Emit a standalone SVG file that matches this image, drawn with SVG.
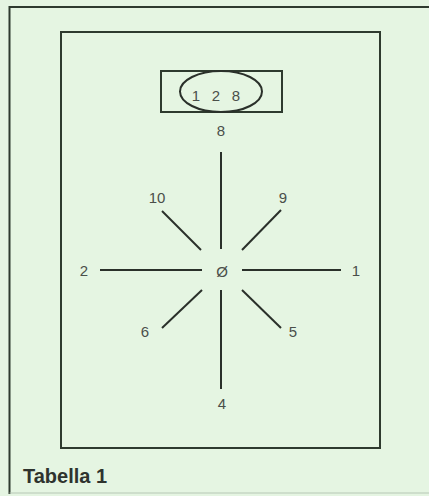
<svg xmlns="http://www.w3.org/2000/svg" width="429" height="496" viewBox="0 0 429 496">
<style>
.bg{fill:#e5f5e2}
.frame{fill:none;stroke:#2e3a2e;stroke-width:2}
.ln{stroke:#2a302a;stroke-width:2;stroke-linecap:butt}
.lbl{font-family:"Liberation Sans",Arial,sans-serif;font-size:15px;fill:#4a4f4a;text-anchor:middle}
.ttl{font-family:"Liberation Sans",Arial,sans-serif;font-size:20px;font-weight:bold;fill:#2e332e}
</style>
<rect class="bg" x="0" y="0" width="429" height="496"/>
<g id="outer-frame">
<path d="M9.5,494 V7 H429" fill="none" stroke="#2e3a2e" stroke-width="2"/>
<path d="M9.5,493 H429" fill="none" stroke="#b8c8b6" stroke-width="1.2"/>
</g>
<g id="inner-frame"><rect class="frame" x="61" y="32" width="319" height="416"/></g>
<g id="node-128">
<rect class="frame" x="161" y="71" width="121" height="41"/>
<ellipse cx="221" cy="91.5" rx="41" ry="20.5" fill="none" stroke="#2a302a" stroke-width="2"/>
<text class="lbl" x="196" y="101">1</text>
<text class="lbl" x="216" y="101">2</text>
<text class="lbl" x="236" y="101">8</text>
</g>
<g id="connectors">
<line class="ln" x1="221" y1="152" x2="221" y2="249"/>
<line class="ln" x1="221" y1="290" x2="221" y2="389"/>
<line class="ln" x1="100" y1="270" x2="202" y2="270"/>
<line class="ln" x1="242" y1="270" x2="341" y2="270"/>
<line class="ln" x1="162" y1="211" x2="201" y2="250"/>
<line class="ln" x1="281" y1="210" x2="242" y2="250"/>
<line class="ln" x1="202" y1="290" x2="162" y2="328"/>
<line class="ln" x1="242" y1="290" x2="281" y2="328"/>
</g>
<g id="node-0"><text class="lbl" x="222" y="277">Ø</text></g>
<g id="node-8"><text class="lbl" x="221" y="136">8</text></g>
<g id="node-4"><text class="lbl" x="222" y="409">4</text></g>
<g id="node-2"><text class="lbl" x="84" y="276">2</text></g>
<g id="node-1"><text class="lbl" x="356" y="276">1</text></g>
<g id="node-10"><text class="lbl" x="157" y="203">10</text></g>
<g id="node-9"><text class="lbl" x="283" y="203">9</text></g>
<g id="node-6"><text class="lbl" x="145" y="337">6</text></g>
<g id="node-5"><text class="lbl" x="293" y="337">5</text></g>
<g id="caption"><text class="ttl" x="23" y="483">Tabella 1</text></g>
</svg>
